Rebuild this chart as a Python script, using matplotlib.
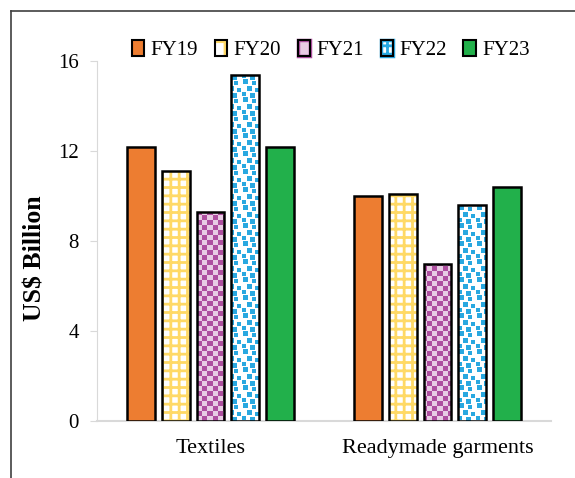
import numpy as np
import matplotlib
matplotlib.use("Agg")
import matplotlib.pyplot as plt
from matplotlib.patches import Patch
from matplotlib.legend_handler import HandlerTuple
from matplotlib.lines import Line2D

plt.rcParams['font.family'] = ['Liberation Serif', 'DejaVu Serif']
plt.rcParams['hatch.linewidth'] = 2.0

categories = ['Textiles', 'Readymade garments']
years = ['FY19', 'FY20', 'FY21', 'FY22', 'FY23']
fy19 = [12.2, 10.0]
fy20 = [11.1, 10.1]
fy21 = [9.3, 7.0]
fy22 = [15.4, 9.6]
fy23 = [12.2, 10.4]
series = [fy19, fy20, fy21, fy22, fy23]

ORANGE = '#ED7D31'
YELLOW = '#FFD966'
PURPLE = '#AE4FA0'
PINK = '#E8CCE4'
BLUE = '#29A8E0'
GREEN = '#22B04B'

W_PX, H_PX = 575, 478
fig = plt.figure(figsize=(W_PX / 100, H_PX / 100), dpi=100)
ax = fig.add_axes([97 / W_PX, 1 - 421 / H_PX, 454 / W_PX, 360 / H_PX])

XLIM = (-0.5, 1.5)
YLIM = (0, 16)
ax_w, ax_h = 454, 360


def hex_rgb(c):
    c = c.lstrip('#')
    return np.array([int(c[i:i + 2], 16) / 255 for i in (0, 2, 4)])


def checker_texture():
    yy, xx = np.mgrid[0:ax_h, 0:ax_w]
    mask = ((xx // 5) + (yy // 5)) % 2 == 0
    img = np.empty((ax_h, ax_w, 3))
    img[mask] = hex_rgb(PURPLE)
    img[~mask] = hex_rgb(PINK)
    return img


def confetti_texture():
    # small repeating tile of blue squares (Excel "large confetti" look)
    n = 18
    tile = np.zeros((n, n), dtype=bool)
    for (r, c, s) in [(0, 2, 5), (2, 11, 4), (7, 6, 5), (9, 14, 4), (13, 1, 4), (14, 9, 5)]:
        for dr in range(s):
            for dc in range(s):
                tile[(r + dr) % n, (c + dc) % n] = True
    mask = np.tile(tile, (ax_h // n + 1, ax_w // n + 1))[:ax_h, :ax_w]
    img = np.ones((ax_h, ax_w, 3))
    img[mask] = hex_rgb(BLUE)
    return img


x = np.arange(len(categories))
width = 0.123
step = 0.154
offsets = (np.arange(len(years)) - 2) * step

textures = {2: checker_texture(), 3: confetti_texture()}
handles = []
for i, (name, vals) in enumerate(zip(years, series)):
    pos = x + offsets[i]
    if i in (0, 4):
        col = ORANGE if i == 0 else GREEN
        ax.bar(pos, vals, width, color=col, edgecolor='black', linewidth=1.8, zorder=3)
        handles.append(Patch(facecolor=col, edgecolor='black', linewidth=1.5))
    elif i == 1:
        ax.bar(pos, vals, width, color='white', edgecolor=YELLOW, hatch='++',
               linewidth=0, zorder=3)
        ax.bar(pos, vals, width, fill=False, edgecolor='black', linewidth=1.8, zorder=4)
        handles.append((Patch(facecolor='white', edgecolor=YELLOW, hatch='+', linewidth=0),
                        Patch(fill=False, edgecolor='black', linewidth=1.5)))
    else:
        bars = ax.bar(pos, vals, width, color='white', edgecolor='none', zorder=3)
        for b in bars:
            im = ax.imshow(textures[i], extent=(XLIM[0], XLIM[1], YLIM[0], YLIM[1]),
                           origin='upper', aspect='auto', interpolation='nearest', zorder=3.5)
            im.set_clip_path(b)
        ax.bar(pos, vals, width, fill=False, edgecolor='black', linewidth=1.8, zorder=4)
        if i == 2:
            handles.append((Patch(facecolor=PINK, edgecolor=PURPLE, linewidth=2.5),
                            Patch(fill=False, edgecolor='black', linewidth=1.5)))
        else:
            handles.append((Patch(facecolor='white', edgecolor=BLUE, linewidth=2.5),
                            Patch(facecolor='none', edgecolor=BLUE, hatch='++', linewidth=0),
                            Patch(fill=False, edgecolor='black', linewidth=1.5)))

ax.set_xlim(*XLIM)
ax.set_ylim(*YLIM)
ax.set_xticks(x)
ax.set_xticklabels(categories, fontsize=16)
ax.set_yticks([0, 4, 8, 12, 16])
ax.tick_params(axis='x', length=0, pad=13)
ax.tick_params(axis='y', labelsize=15, length=5, color='#D9D9D9', pad=8)
for s in ('top', 'right'):
    ax.spines[s].set_visible(False)
ax.spines['left'].set_color('#D9D9D9')
ax.spines['bottom'].set_color('#D9D9D9')
ax.spines['bottom'].set_linewidth(1.5)
ax.set_ylabel('US$ Billion', fontsize=18.5, fontweight='bold')
ax.yaxis.set_label_coords(-0.112, 0.453)

ax.legend(handles, years, handler_map={tuple: HandlerTuple(ndivide=1)},
          ncol=5, loc='center', bbox_to_anchor=(0.515, 1.03), frameon=False,
          fontsize=15, handlelength=0.6, handleheight=0.75, handletextpad=0.3,
          columnspacing=0.8)

# outer frame (only top and left visible)
fig.add_artist(Line2D([11 / W_PX, 1], [1 - 11 / H_PX, 1 - 11 / H_PX],
                      color='#404040', linewidth=1.2, transform=fig.transFigure))
fig.add_artist(Line2D([11 / W_PX, 11 / W_PX], [0, 1 - 11 / H_PX],
                      color='#404040', linewidth=1.2, transform=fig.transFigure))

fig.savefig('out.png', dpi=100)
